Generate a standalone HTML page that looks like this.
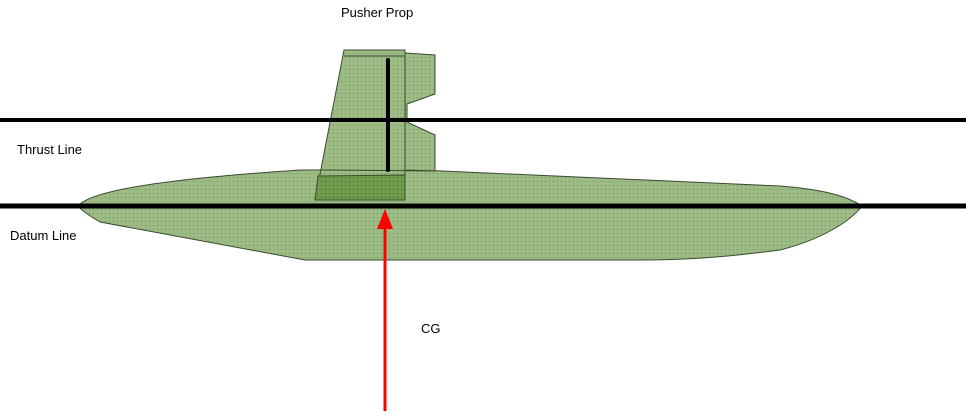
<!DOCTYPE html>
<html><head><meta charset="utf-8"><style>
html,body{margin:0;padding:0;background:#fff;}
svg{display:block;}
text{font-family:"Liberation Sans",sans-serif;font-size:13px;fill:#000;}
</style></head><body>
<svg width="966" height="417" viewBox="0 0 966 417">
<defs>
<pattern id="dots" width="4" height="4" patternUnits="userSpaceOnUse">
<rect width="4" height="4" fill="#9dbb85"/>
<rect x="1" y="1" width="1" height="1" fill="#6f8f5a"/>
</pattern>
<pattern id="dots2" width="4" height="4" patternUnits="userSpaceOnUse">
<rect width="4" height="4" fill="#6f9b4c"/>
<rect x="1" y="1" width="1" height="1" fill="#3f6a28"/>
</pattern>
</defs>
<!-- fuselage -->
<path d="M78,206 C90,192 150,180 300,170 L420,170 L780,186 C830,190 850,198 862,206 C850,222 820,240 780,250 C720,258 680,260 640,260 L305,260 L100,222 C90,216 82,211 78,206 Z" fill="url(#dots)" stroke="#3a4a30" stroke-width="1"/>
<!-- rudder -->
<path d="M405,53 L435,55 L435,94 L407,104 L407,122 L435,135 L435,171 L405,170 Z" fill="url(#dots)" stroke="#3a4a30" stroke-width="1"/>
<!-- fin -->
<path d="M344,50 L405,50 L405,200 L315,200 Z" fill="url(#dots)" stroke="#3a4a30" stroke-width="1"/>
<line x1="344" y1="56" x2="405" y2="56" stroke="#3a4a30" stroke-width="1"/>
<!-- dark band -->
<path d="M318,176 L405,175 L405,200 L315,200 Z" fill="url(#dots2)" stroke="#3a4a30" stroke-width="1"/>
<line x1="318" y1="170" x2="435" y2="171" stroke="#3a4a30" stroke-width="1"/>
<!-- prop -->
<line x1="388" y1="60" x2="388" y2="170" stroke="#000" stroke-width="4" stroke-linecap="round"/>
<!-- lines -->
<line x1="0" y1="120" x2="966" y2="120" stroke="#000" stroke-width="4"/>
<line x1="0" y1="206" x2="966" y2="206" stroke="#000" stroke-width="5"/>
<!-- CG arrow -->
<line x1="385" y1="411" x2="385" y2="224" stroke="#f00" stroke-width="3"/>
<path d="M385,209 L377,229 L393,229 Z" fill="#f00"/>
<text x="341" y="17">Pusher Prop</text>
<text x="17" y="154">Thrust Line</text>
<text x="10" y="240">Datum Line</text>
<text x="421" y="333">CG</text>
</svg>
</body></html>
